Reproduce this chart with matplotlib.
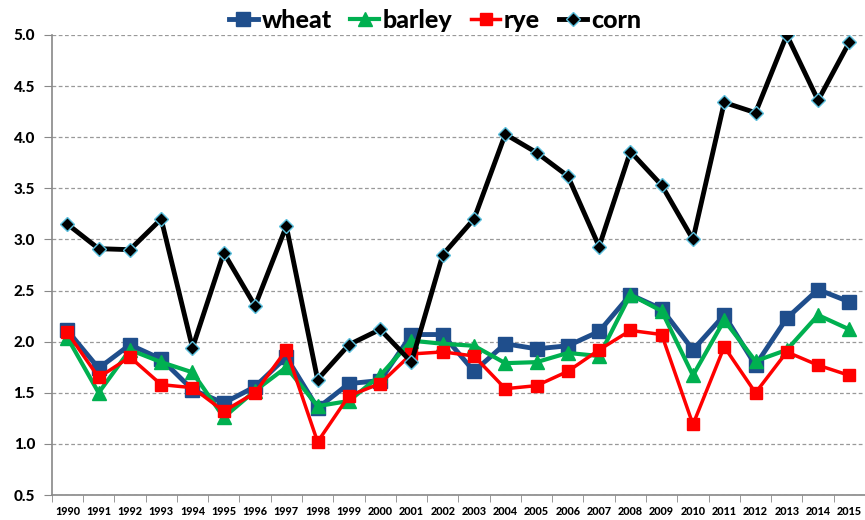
import matplotlib
matplotlib.use("Agg")
import matplotlib.pyplot as plt
import numpy as np
from matplotlib.ticker import FixedLocator

years = [str(y) for y in range(1990, 2016)]
wheat = [2.11, 1.74, 1.97, 1.83, 1.53, 1.40, 1.56, 1.85, 1.35, 1.59, 1.62, 2.07, 2.07,
         1.71, 1.98, 1.93, 1.96, 2.10, 2.46, 2.32, 1.92, 2.26, 1.77, 2.23, 2.51, 2.39]
barley = [2.04, 1.50, 1.92, 1.80, 1.70, 1.26, 1.52, 1.75, 1.37, 1.42, 1.67, 2.01, 1.98,
          1.96, 1.79, 1.80, 1.89, 1.86, 2.46, 2.30, 1.67, 2.21, 1.81, 1.92, 2.26, 2.12]
rye = [2.09, 1.65, 1.85, 1.58, 1.55, 1.32, 1.50, 1.92, 1.02, 1.47, 1.59, 1.88, 1.90,
       1.86, 1.54, 1.57, 1.71, 1.92, 2.11, 2.07, 1.19, 1.95, 1.50, 1.90, 1.77, 1.67]
corn = [3.15, 2.91, 2.90, 3.20, 1.94, 2.87, 2.35, 3.13, 1.63, 1.97, 2.12, 1.80, 2.85,
        3.20, 4.03, 3.85, 3.62, 2.93, 3.86, 3.53, 3.00, 4.34, 4.24, 5.00, 4.36, 4.93]
y_ticks = [0.5, 1.0, 1.5, 2.0, 2.5, 3.0, 3.5, 4.0, 4.5, 5.0]

plt.rcParams['font.family'] = ['Lato', 'DejaVu Sans']
plt.rcParams['font.weight'] = 'bold'

fig = plt.figure(figsize=(8.65, 5.2), dpi=100)
ax = fig.add_axes([0.0598, 0.048, 0.9402, 0.8847])
x = np.arange(len(years))

ax.plot(x, wheat, color='#1F4E8C', lw=3.5, marker='s', ms=10, mfc='#1F4E8C', mec='#1F4E8C', label='wheat', zorder=3)
ax.plot(x, barley, color='#00B050', lw=3, marker='^', ms=10, mfc='#00B050', mec='#00B050', label='barley', zorder=4)
ax.plot(x, rye, color='#FF0000', lw=2.5, marker='s', ms=8.5, mfc='#FF0000', mec='#FF0000', label='rye', zorder=5)
ax.plot(x, corn, color='black', lw=3.5, marker='D', ms=7, mfc='black', mec='#5BC0DE', mew=1, label='corn', zorder=6)

ax.set_xlim(-0.5, len(years) - 0.5)
ax.set_ylim(0.5, 5.0)
ax.set_yticks(y_ticks)
ax.set_yticklabels([f"{v:.1f}" for v in y_ticks], fontsize=11, fontweight='black')
ax.set_xticks(x)
ax.set_xticklabels(years, fontsize=7.8, fontweight='black')
ax.xaxis.set_minor_locator(FixedLocator(np.arange(-0.5, len(years), 1.0)))
ax.tick_params(axis='x', which='major', length=0, pad=8)
ax.tick_params(axis='x', which='minor', length=5, color='#888888', direction='out')
ax.tick_params(axis='y', length=6, color='#888888', pad=6)

ax.yaxis.grid(True, linestyle=(0, (3, 2)), color='#999999', lw=0.9)
ax.set_axisbelow(True)
for s in ['top', 'right']:
    ax.spines[s].set_visible(False)
for s in ['left', 'bottom']:
    ax.spines[s].set_color('#888888')
    ax.spines[s].set_linewidth(1.2)

leg = fig.legend(loc='center', bbox_to_anchor=(0.503, 0.9615), ncol=4, frameon=False,
                 prop={'family': 'Lato', 'weight': 'black', 'size': 18},
                 handlelength=1.15, handletextpad=0.15, columnspacing=0.75)

fig.savefig('out.png', dpi=100)
